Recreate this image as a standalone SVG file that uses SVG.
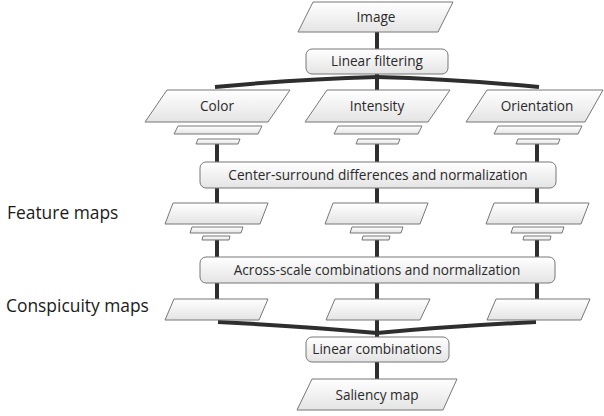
<svg xmlns="http://www.w3.org/2000/svg" width="604" height="416" viewBox="0 0 604 416">
<defs>
<linearGradient id="g" x1="0" y1="0" x2="0" y2="1"><stop offset="0" stop-color="#ffffff"/><stop offset="1" stop-color="#e4e4e4"/></linearGradient>
</defs>
<style>
.sh{fill:url(#g);stroke:#777;stroke-width:1}
.t{font-family:"Open Sans","Liberation Sans",sans-serif;font-size:13.6px;fill:#2a2a2a;text-anchor:middle}
.lab{font-family:"Open Sans","Liberation Sans",sans-serif;font-size:17.4px;fill:#1a1a1a}
.c{stroke:#2e2e2e;stroke-width:4;fill:none}
</style>
<rect width="604" height="416" fill="#fff"/>
<g id="connectors">
<line class="c" x1="377" y1="32" x2="377" y2="49"/>
<line class="c" x1="377" y1="73" x2="377" y2="91"/>
<path class="c" d="M377,77 Q300,79 215,87"/>
<path class="c" d="M377,77 Q454,79 539,87"/>
<line class="c" x1="217" y1="144" x2="217" y2="163"/>
<line class="c" x1="377" y1="144" x2="377" y2="163"/>
<line class="c" x1="537" y1="144" x2="537" y2="163"/>
<line class="c" x1="217" y1="188" x2="217" y2="204"/>
<line class="c" x1="377" y1="188" x2="377" y2="204"/>
<line class="c" x1="537" y1="188" x2="537" y2="204"/>
<line class="c" x1="217" y1="240" x2="217" y2="258"/>
<line class="c" x1="377" y1="240" x2="377" y2="258"/>
<line class="c" x1="537" y1="240" x2="537" y2="258"/>
<line class="c" x1="217" y1="283" x2="217" y2="300"/>
<line class="c" x1="377" y1="283" x2="377" y2="300"/>
<line class="c" x1="537" y1="283" x2="537" y2="300"/>
<path class="c" d="M218,322 Q300,326 377,333"/>
<path class="c" d="M536,322 Q454,326 377,333"/>
<line class="c" x1="377" y1="320" x2="377" y2="338"/>
<line class="c" x1="377" y1="361" x2="377" y2="380"/>
</g>
<g id="image"><polygon class="sh" points="313,2 453,2 438,32 298,32"/><text class="t" x="376" y="22">Image</text></g>
<g id="linear-filtering"><rect class="sh" x="306" y="49" width="142" height="25" rx="6"/><text class="t" x="377" y="66">Linear filtering</text></g>
<g id="color"><polygon class="sh" points="167,90 290,90 268,122 145,122"/><text class="t" x="217" y="111">Color</text>
<polygon class="sh" points="178,126 262,126 258,134 174,134"/><polygon class="sh" points="198,139 240,139 238,144 196,144"/></g>
<g id="intensity"><polygon class="sh" points="327,90 450,90 428,122 305,122"/><text class="t" x="377" y="111">Intensity</text>
<polygon class="sh" points="338,126 422,126 418,134 334,134"/><polygon class="sh" points="358,139 400,139 398,144 356,144"/></g>
<g id="orientation"><polygon class="sh" points="487,90 603,90 585,122 466,122"/><text class="t" x="537" y="111">Orientation</text>
<polygon class="sh" points="498,126 582,126 578,134 494,134"/><polygon class="sh" points="518,139 560,139 558,144 516,144"/></g>
<g id="center-surround"><rect class="sh" x="200" y="162" width="356" height="26" rx="6"/><text class="t" x="378" y="180">Center-surround differences and normalization</text></g>
<g id="feature-color"><polygon class="sh" points="173,203 268,203 260,224 165,224"/><polygon class="sh" points="192,227 243,227 241,233 190,233"/><polygon class="sh" points="203,236 230,236 229,240 202,240"/></g>
<g id="feature-intensity"><polygon class="sh" points="333,203 428,203 420,224 325,224"/><polygon class="sh" points="352,227 403,227 401,233 350,233"/><polygon class="sh" points="363,236 390,236 389,240 362,240"/></g>
<g id="feature-orientation"><polygon class="sh" points="494,203 589,203 581,224 486,224"/><polygon class="sh" points="513,227 564,227 562,233 511,233"/><polygon class="sh" points="524,236 551,236 550,240 523,240"/></g>
<g id="across-scale"><rect class="sh" x="200" y="257" width="355" height="26" rx="6"/><text class="t" x="377" y="275">Across-scale combinations and normalization</text></g>
<g id="consp-color"><polygon class="sh" points="174,299 268,299 259,320 165,320"/></g>
<g id="consp-intensity"><polygon class="sh" points="335,299 430,299 420,320 326,320"/></g>
<g id="consp-orientation"><polygon class="sh" points="496,299 590,299 581,320 487,320"/></g>
<g id="linear-combinations"><rect class="sh" x="306" y="337" width="143" height="25" rx="6"/><text class="t" x="377" y="354">Linear combinations</text></g>
<g id="saliency"><polygon class="sh" points="312,379 457,379 443,410 297,410"/><text class="t" x="377" y="400">Saliency map</text></g>
<g id="labels"><text class="lab" x="7" y="219">Feature maps</text><text class="lab" x="6" y="312">Conspicuity maps</text></g>
</svg>
